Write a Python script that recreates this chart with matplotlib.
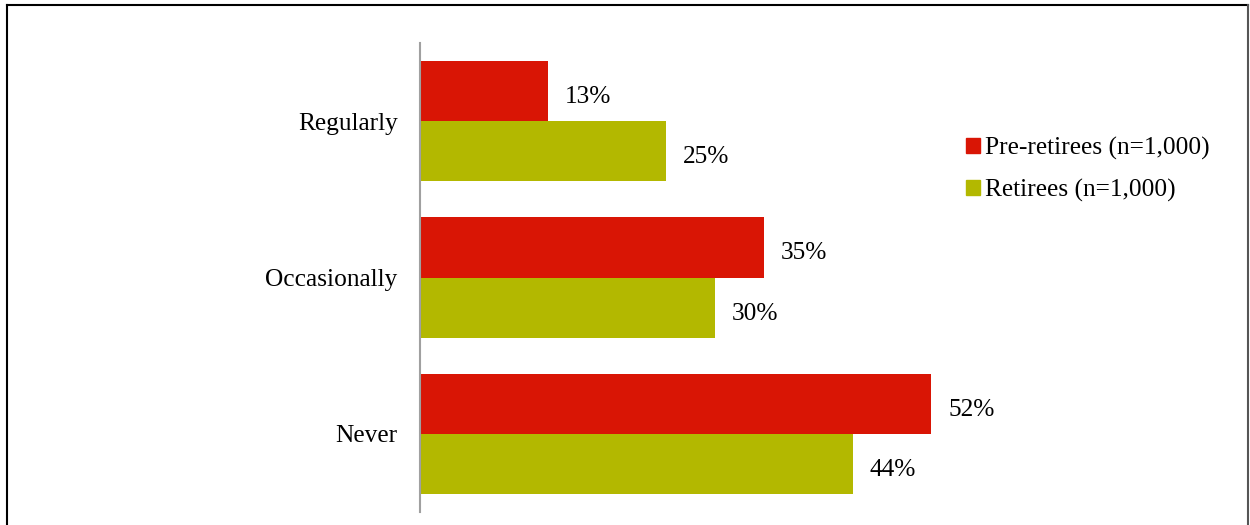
import matplotlib
matplotlib.use("Agg")
import matplotlib.pyplot as plt
from matplotlib.lines import Line2D
from matplotlib.patches import Patch
import numpy as np

categories = ["Regularly", "Occasionally", "Never"]
pre_retirees = [13, 35, 52]
retirees = [25, 30, 44]
series_names = ["Pre-retirees (n=1,000)", "Retirees (n=1,000)"]

red = "#d91505"
green = "#b3b800"

plt.rcParams["font.family"] = ["Liberation Serif", "DejaVu Serif"]
plt.rcParams["font.size"] = 18.3

fig = plt.figure(figsize=(12.5, 5.25), dpi=100)
ax = fig.add_axes([420 / 1250, 1 - 512 / 525, 590 / 1250, 469 / 525])

y = np.arange(len(categories))
h = 60 / 156
ax.barh(y - h / 2, pre_retirees, height=h, color=red)
ax.barh(y + h / 2, retirees, height=h, color=green)

# value labels, nudged a little right and down like the original
for yi, v in zip(y, pre_retirees):
    ax.annotate(f"{v}%", (v, yi - h / 2), xytext=(12, -2.5), textcoords="offset points",
                va="center_baseline", ha="left")
for yi, v in zip(y, retirees):
    ax.annotate(f"{v}%", (v, yi + h / 2), xytext=(12, -2.5), textcoords="offset points",
                va="center_baseline", ha="left")

ax.set_xlim(0, 60)
ax.set_ylim(2.5, -0.5)
ax.set_yticks(y)
ax.set_yticklabels(categories)
ax.tick_params(axis="y", length=0, pad=16)
for lbl in ax.get_yticklabels():
    lbl.set_verticalalignment("center_baseline")
ax.set_xticks([])
for s in ["top", "right", "bottom"]:
    ax.spines[s].set_visible(False)
ax.spines["left"].set_color("#a0a0a0")
ax.spines["left"].set_linewidth(1.5)

handles = [Patch(color=red), Patch(color=green)]
fig.legend(handles, series_names, loc="upper left",
           bbox_to_anchor=(953 / 1250, 1 - 124 / 525), frameon=False,
           handlelength=0.55, handleheight=0.55, handletextpad=0.2,
           labelspacing=0.75, borderpad=0)

# outer frame
fig.add_artist(Line2D([7 / 1250, 7 / 1250], [0, 1 - 5 / 525], color="black", lw=1.5, transform=fig.transFigure))
fig.add_artist(Line2D([7 / 1250, 1248 / 1250], [1 - 5 / 525, 1 - 5 / 525], color="black", lw=1.5, transform=fig.transFigure))
fig.add_artist(Line2D([1248 / 1250, 1248 / 1250], [0, 1 - 5 / 525], color="#555555", lw=1.5, transform=fig.transFigure))

fig.savefig("out.png", dpi=100)
